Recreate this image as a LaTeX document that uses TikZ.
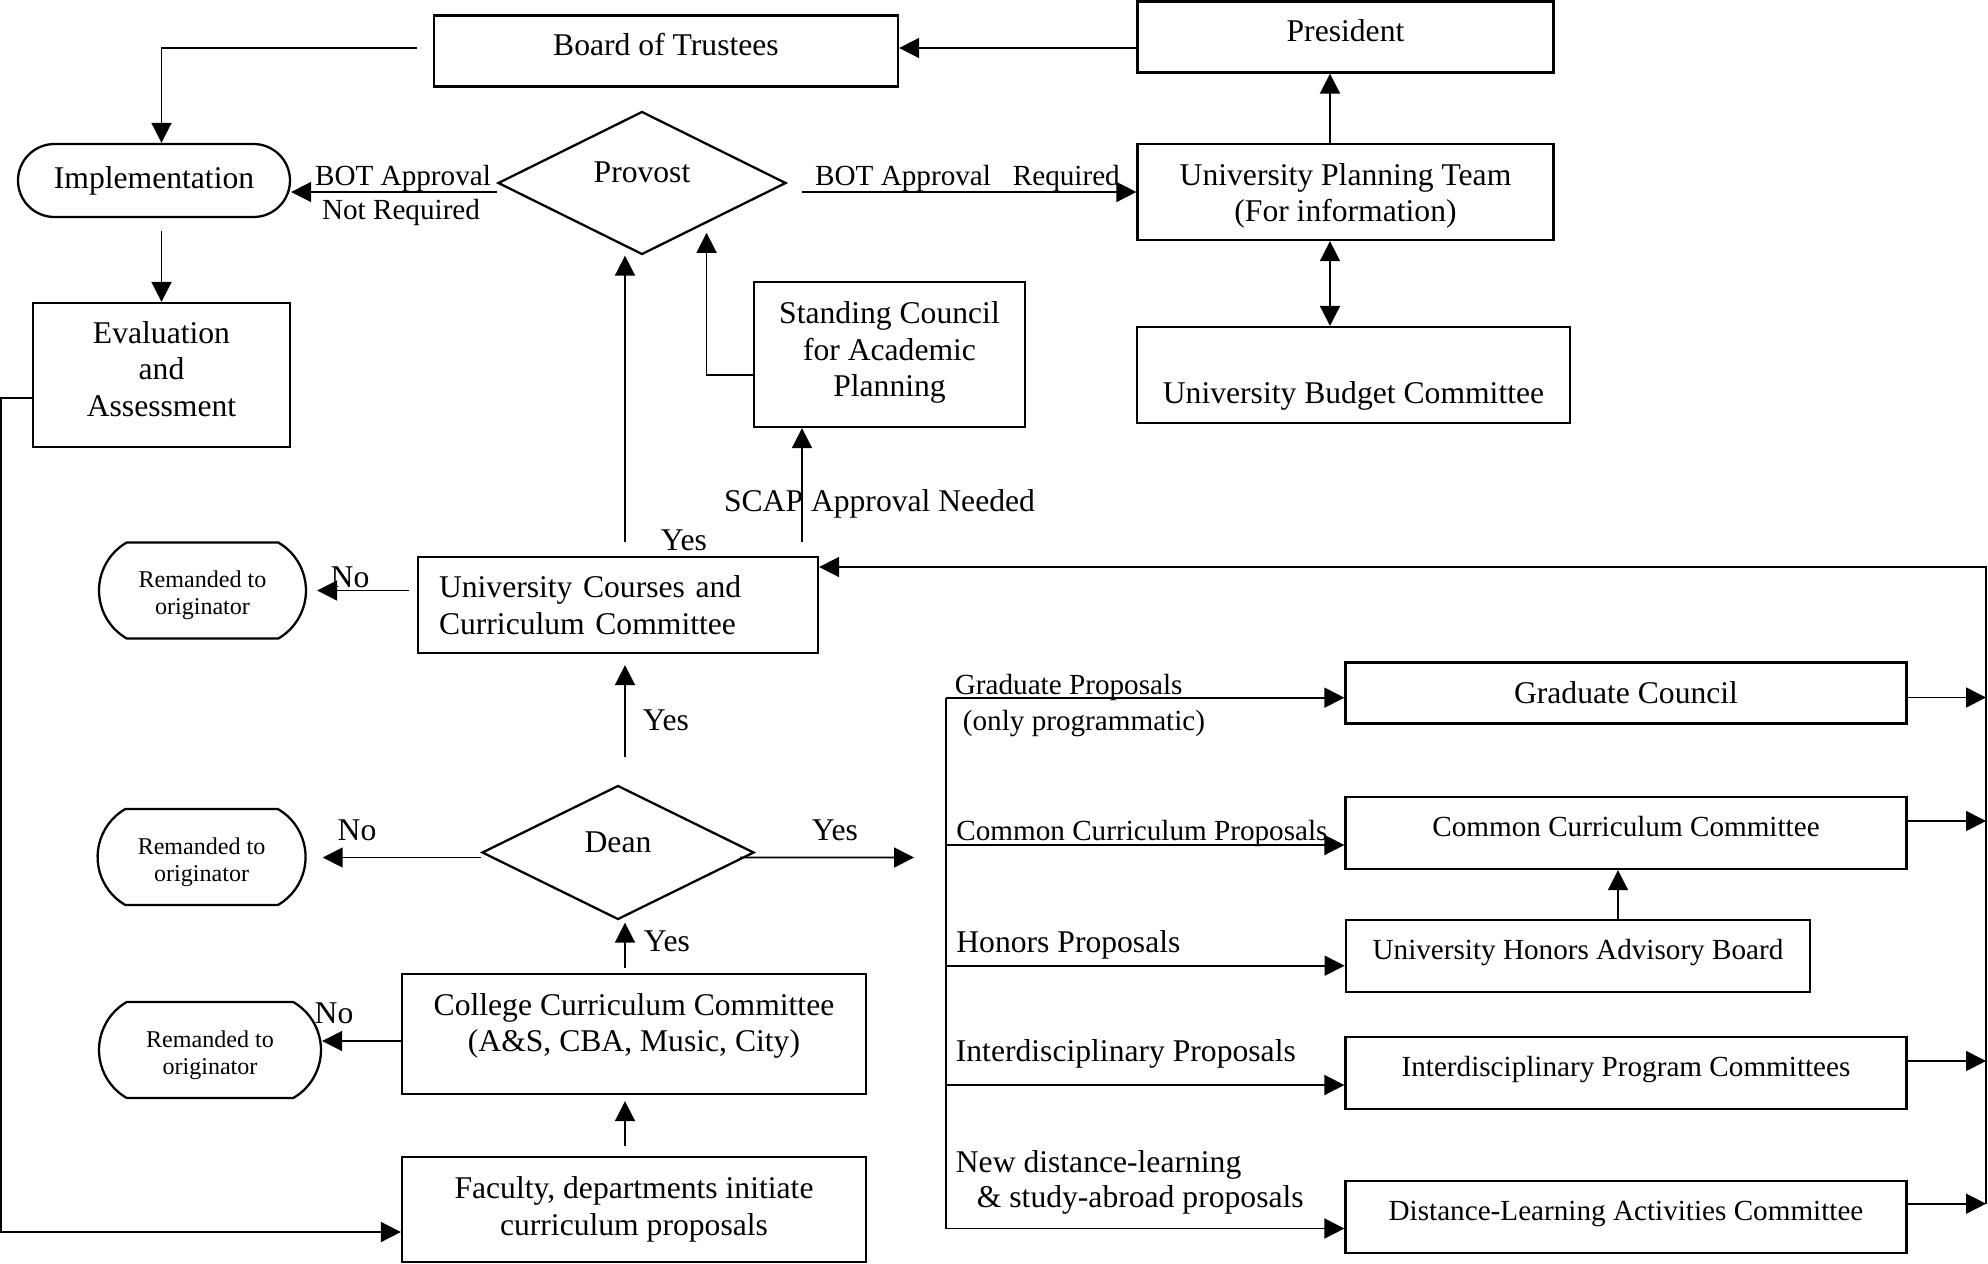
\documentclass[tikz,border=0pt]{standalone}
\usepackage{fontspec}
\setmainfont{Liberation Serif}
\usetikzlibrary{shapes.geometric,shapes.misc,arrows.meta}

\begin{document}
\begin{tikzpicture}[>={Triangle[length=2mm,width=2mm]},line width=0.5pt,
		every node/.style={font=\fontsize{9}{10.4}\selectfont},
		box/.style={draw,line width=0.65pt,inner sep=0pt,align=center},
		decision/.style={diamond,aspect=2,draw,line width=0.65pt,inner sep=0pt},
		terminal/.style={rounded rectangle,draw,line width=0.65pt,inner sep=0pt},
		remand/.style={rounded rectangle,rounded rectangle arc length=120,draw,line width=0.65pt,
			inner sep=0pt,minimum height=0.96cm},
		remtext/.style={align=center,yshift=-0.5mm,font=\fontsize{6.85}{7.7}\selectfont},
		small/.style={font=\fontsize{8.3}{10}\selectfont},
		textlift/.style={text height=2.3mm,text depth=#1},
		tag/.style={inner sep=0pt}
		]
	\useasboundingbox (0,0) rectangle (19.88,-12.64);
	%\draw[step=1cm, color=gray] (0,0) grid (19.88,-12.64);

	% top of the chart
	\node [box, textlift=1.5mm, minimum width=4.64cm, minimum height=0.71cm] (bot) at (6.66,-0.51) {Board of Trustees};
	\node [box, textlift=1.4mm, minimum width=4.16cm, minimum height=0.71cm] (pres) at (13.455,-0.37) {President};
	\node [box, minimum width=4.16cm, minimum height=0.96cm,
		label={[align=center, yshift=-0.4mm]center:University Planning Team\\(For information)}] (upt) at (13.455,-1.92) {};
	\node [box, text height=6.4mm, text depth=0.7mm, minimum width=4.33cm, minimum height=0.96cm] (ubc) at (13.535,-3.75) {University Budget Committee};
	\node [decision, textlift=2.4mm, minimum width=2.88cm, minimum height=1.43cm] (prov) at (6.42,-1.83) {Provost};
	\node [terminal, minimum width=2.72cm, minimum height=0.73cm] (impl) at (1.54,-1.805) {Implementation};
	\node [box, minimum width=2.57cm, minimum height=1.44cm,
		label={[align=center, yshift=0.6mm]center:Evaluation\\and\\Assessment}] (eval) at (1.615,-3.75) {};
	\node [box, minimum width=2.71cm, minimum height=1.45cm,
		label={[align=center, yshift=0.2mm]center:Standing Council\\for Academic\\Planning}] (scap) at (8.895,-3.545) {};

	% college and university committees
	\node [box, align=left, text width=3.58cm, inner xsep=2.1mm, minimum width=4.0cm, minimum height=0.96cm] (ucc) at (6.18,-6.05) {University Courses and\\Curriculum Committee};
	\node [decision, textlift=2.4mm, minimum width=2.72cm, minimum height=1.34cm] (dean) at (6.18,-8.525) {Dean};
	\node [box, minimum width=4.64cm, minimum height=1.2cm,
		label={[align=center, yshift=0.8mm]center:College Curriculum Committee\\(A\&S, CBA, Music, City)}] (ccc) at (6.34,-10.34) {};
	\node [box, minimum width=4.64cm, minimum height=1.05cm] (fac) at (6.34,-12.095) {Faculty, departments initiate\\curriculum proposals};
	\node [remand, minimum width=2.07cm, label={[remtext]center:Remanded to\\originator}] (rem1) at (2.025,-5.905) {};
	\node [remand, minimum width=2.08cm, label={[remtext]center:Remanded to\\originator}] (rem2) at (2.016,-8.57) {};
	\node [remand, minimum width=2.22cm, label={[remtext]center:Remanded to\\originator}] (rem3) at (2.10,-10.50) {};

	% special proposals
	\node [box, minimum width=5.61cm, minimum height=0.61cm] (gc) at (16.26,-6.93) {Graduate Council};
	\node [box, small, textlift=1.7mm, minimum width=5.61cm, minimum height=0.72cm] (ccom) at (16.26,-8.33) {Common Curriculum Committee};
	\node [box, small, textlift=1.7mm, minimum width=4.645cm, minimum height=0.72cm] (uhab) at (15.78,-9.56) {University Honors Advisory Board};
	\node [box, small, textlift=1.7mm, minimum width=5.61cm, minimum height=0.72cm] (ipc) at (16.26,-10.73) {Interdisciplinary Program Committees};
	\node [box, small, textlift=1.6mm, minimum width=5.61cm, minimum height=0.72cm] (dlac) at (16.26,-12.17) {Distance-Learning Activities Committee};

	\coordinate (dyes) at (9.14,-8.575);
	\coordinate (bus) at (9.46,-6.977);
	\coordinate (rbus) at (19.86,-12.04);

	% connectors, top
	\draw [->] ([yshift=-1.1mm]pres.west) -- ([yshift=-1.1mm]pres.west -| bot.east);
	\draw [->] ([shift={(-1.6mm,0.3mm)}]bot.west) -| ([xshift=0.75mm]impl.north);
	\draw [->, shorten <=1.3mm] (eval.north |- impl.south) -- (eval.north);
	\draw [->] ([yshift=-2.3mm]eval.west) -- ++(-0.31,0) |- ([yshift=-2.25mm]fac.west);
	\draw [->] ([yshift=-0.9mm]prov.west) -- ([yshift=-0.9mm]prov.west -| impl.east);
	\draw [->] ([xshift=1.5mm]prov.east |- upt.west) -- (upt.west);
	\draw [->] ([xshift=-1.55mm]upt.north) -- ([xshift=-1.55mm]pres.south);
	\draw [<->] ([xshift=-1.55mm]upt.south) -- ([xshift=-1.55mm]upt.south |- ubc.north);
	\draw [->] ([yshift=-2.05mm]scap.west) -| ([shift={(-0.8mm,-1.35mm)}]prov.south east);
	\draw [->, shorten <=1.4mm] ([xshift=0.7mm]ucc.north) -- ([xshift=0.7mm]ucc.north |- prov.south);
	\draw [->, shorten <=1.4mm] ([xshift=-8.75mm]scap.south |- ucc.north) -- ([xshift=-8.75mm]scap.south);

	% connectors, middle
	\draw [->, shorten <=0.8mm, shorten >=1mm] (rem1.east -| ucc.west) -- (rem1.east);
	\draw [->] (rbus) |- ([yshift=3.8mm]ucc.east);
	\draw [->, shorten <=2.7mm, shorten >=1.1mm] ([xshift=0.7mm]ucc.south |- dean.north) -- ([xshift=0.7mm]ucc.south);
	\draw [->, shorten >=1.6mm] ([yshift=-0.5mm]dean.west) -- ([yshift=-0.5mm]dean.west -| rem2.east);
	\draw [->] ([shift={(-1.5mm,-0.5mm)}]dean.east) -- (dyes);
	\draw [->, shorten <=0.5mm, shorten >=0.2mm] ([xshift=0.7mm]dean.south |- ccc.north) -- ([xshift=0.7mm]dean.south);
	\draw [->] ([yshift=-0.7mm]ccc.west) -- ([yshift=-0.7mm]ccc.west -| rem3.east);
	\draw [->, shorten <=1mm, shorten >=0.6mm] ([xshift=-0.9mm]fac.north) -- ([xshift=-0.9mm]ccc.south);

	% connectors, right
	\draw [->] (bus) -- (bus -| gc.west);
	\draw [->] (bus) |- ([yshift=-1.15mm]dlac.west);
	\draw [->] ([yshift=-1.2mm]ccom.west -| bus) -- ([yshift=-1.2mm]ccom.west);
	\draw [->] ([yshift=-0.97mm]uhab.west -| bus) -- ([yshift=-0.97mm]uhab.west);
	\draw [->] ([yshift=-1.2mm]ipc.west -| bus) -- ([yshift=-1.2mm]ipc.west);
	\draw [->] ([xshift=4mm]uhab.north) -- ([xshift=4mm]uhab.north |- ccom.south);
	\draw [->] ([yshift=-0.45mm]gc.east) -- ([yshift=-0.45mm]gc.east -| rbus);
	\draw [->] ([yshift=1.2mm]ccom.east) -- ([yshift=1.2mm]ccom.east -| rbus);
	\draw [->] ([yshift=1.2mm]ipc.east) -- ([yshift=1.2mm]ipc.east -| rbus);
	\draw [->] ([yshift=1.33mm]dlac.east) -- ([yshift=1.33mm]dlac.east -| rbus);

	% labels on the lines
	\node [tag, small, anchor=base] (botl) at (4.03,-1.85) {BOT Approval};
	\node [tag, small, anchor=base] (notreq) at (4.01,-2.19) {Not Required};
	\node [tag, small, anchor=base] (botr) at (9.675,-1.85) {BOT Approval~~~Required};
	\node [tag, anchor=base] (need) at (8.795,-5.117) {SCAP Approval Needed};
	\node [tag, anchor=base] (yes1) at (6.84,-5.50) {Yes};
	\node [tag, anchor=base] (no1) at (3.50,-5.87) {No};
	\node [tag, anchor=base] (yes2) at (6.66,-7.30) {Yes};
	\node [tag, anchor=base] (no2) at (3.57,-8.40) {No};
	\node [tag, anchor=base] (yes3) at (8.35,-8.40) {Yes};
	\node [tag, anchor=base] (yes4) at (6.67,-9.517) {Yes};
	\node [tag, anchor=base] (no3) at (3.34,-10.23) {No};
	\node [tag, small, anchor=base west] (gradp) at (9.54,-6.94) {Graduate Proposals};
	\node [tag, small, anchor=base west] (onlyp) at (9.62,-7.30) {(only programmatic)};
	\node [tag, small, anchor=base west] (commp) at (9.555,-8.40) {Common Curriculum Proposals};
	\node [tag, anchor=base west] (honp) at (9.555,-9.52) {Honors Proposals};
	\node [tag, anchor=base west] (interp) at (9.55,-10.617) {Interdisciplinary Proposals};
	\node [tag, anchor=base west] (distp) at (9.55,-11.72) {New distance-learning};
	\node [tag, anchor=base west] (abrp) at (9.76,-12.07) {\& study-abroad proposals};
\end{tikzpicture}
\end{document}
